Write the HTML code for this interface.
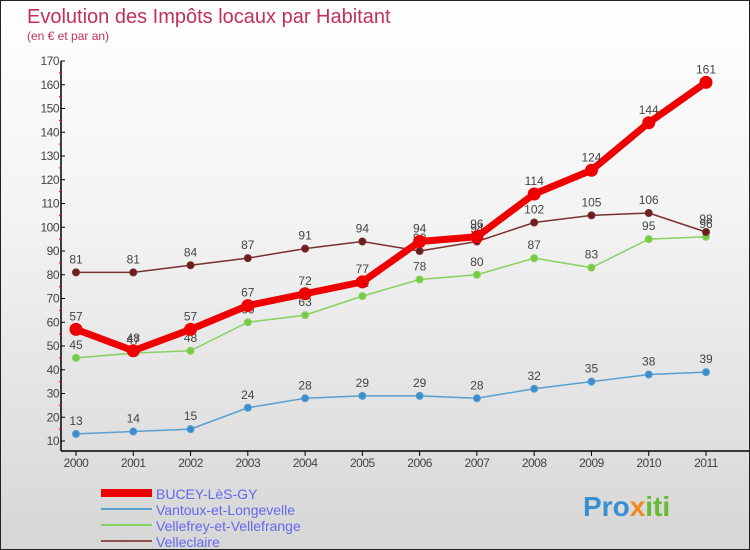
<!DOCTYPE html>
<html><head><meta charset="utf-8"><style>
body{margin:0}
#c{width:748px;height:548px;border:1px solid #222;background:linear-gradient(#fff,#f3f3f3 40%,#d6d6d6);position:relative;font-family:"Liberation Sans",sans-serif;overflow:hidden}
svg text{font-family:"Liberation Sans",sans-serif}
</style></head><body>
<div id="c">
<svg id="s" width="748" height="548">
<text x="26" y="22" font-size="20" fill="#c0305a">Evolution des Impôts locaux par Habitant</text>
<text x="26" y="39" font-size="12" fill="#c0305a">(en € et par an)</text>
<text x="582" y="515" font-size="28" font-weight="bold" fill="#3a8fd0">Pro<tspan fill="#f08a20">x</tspan><tspan fill="#66bb33">iti</tspan></text>
</svg>
</div>
<script>
const years=[2000,2001,2002,2003,2004,2005,2006,2007,2008,2009,2010,2011];
const yTicks=[10,20,30,40,50,60,70,80,90,100,110,120,130,140,150,160,170];
const bucey=[57,48,57,67,72,77,94,96,114,124,144,161];
const vantoux=[13,14,15,24,28,29,29,28,32,35,38,39];
const vellefrey=[45,47,48,60,63,71,78,80,87,83,95,96];
const velleclaire=[81,81,84,87,91,94,90,94,102,105,106,98];
const NS="http://www.w3.org/2000/svg";
const s=document.getElementById('s');
const X=i=>75+i*(630/(years.length-1));
const Y=v=>440-(v-10)*(380/160);
function mk(t,a,p){const e=document.createElementNS(NS,t);for(const k in a)e.setAttribute(k,a[k]);(p||s).appendChild(e);return e;}
let ax=mk('line',{x1:60,y1:Y(170),x2:60,y2:450,stroke:'#000','stroke-width':1.5});


let xx=mk('line',{x1:60,y1:450,x2:748,y2:450,stroke:'#000','stroke-width':1.5});


yTicks.forEach(v=>{
 mk('line',{x1:60,y1:Y(v),x2:64,y2:Y(v),stroke:'#000'});
 if(v<170) mk('line',{x1:58,y1:Y(v+5),x2:61,y2:Y(v+5),stroke:'#e00'});
 const t=mk('text',{x:58,y:Y(v)+4,'font-size':12,fill:'#444','text-anchor':'end','letter-spacing':'-0.5'});
 t.textContent=v;
 
 
});
years.forEach((y,i)=>{
 mk('line',{x1:X(i),y1:450,x2:X(i),y2:455,stroke:'#000'});
 const t=mk('text',{x:X(i),y:466,'font-size':12,fill:'#444','text-anchor':'middle','letter-spacing':'-0.5'});
 t.textContent=y;
 
 
});
function series(d,col,dot,w,r,name){
 const g=mk('g',{});
 
 
 mk('polyline',{points:d.map((v,i)=>X(i)+','+Y(v)).join(' '),fill:'none',stroke:col,'stroke-width':w,'stroke-linejoin':'round'},g);
 d.forEach((v,i)=>{
  const c=mk('circle',{cx:X(i),cy:Y(v),r:r,fill:dot,stroke:col,'stroke-width':1},g);
  
  
  const t=mk('text',{x:X(i),y:Y(v)-9,'font-size':12,fill:'#444','text-anchor':'middle'},g);
  t.textContent=v;
  
  
 });
}
series(vantoux,'#5a9fd0','#3d8ccc',1.5,3.5,'vantoux-series');
series(vellefrey,'#88d060','#77cc44',1.5,3.5,'vellefrey-series');
series(velleclaire,'#7a3030','#6a1e1e',1.5,3.5,'velleclaire-series');
series(bucey,'#ee0000','#ee0000',7,6,'bucey-series');
const leg=[['BUCEY-LèS-GY','#ee0000',8],['Vantoux-et-Longevelle','#5a9fd0',2],['Vellefrey-et-Vellefrange','#88d060',2],['Velleclaire','#905050',2]];
leg.forEach((l,i)=>{
 const y=492+i*16;
 const ln=mk('line',{x1:100,y1:y,x2:151,y2:y,stroke:l[1],'stroke-width':l[2]});
 
 
 const t=mk('text',{x:155,y:y+6,'font-size':14,fill:'#6666ee'});
 t.textContent=l[0];
 
 
});
</script>
</body></html>
